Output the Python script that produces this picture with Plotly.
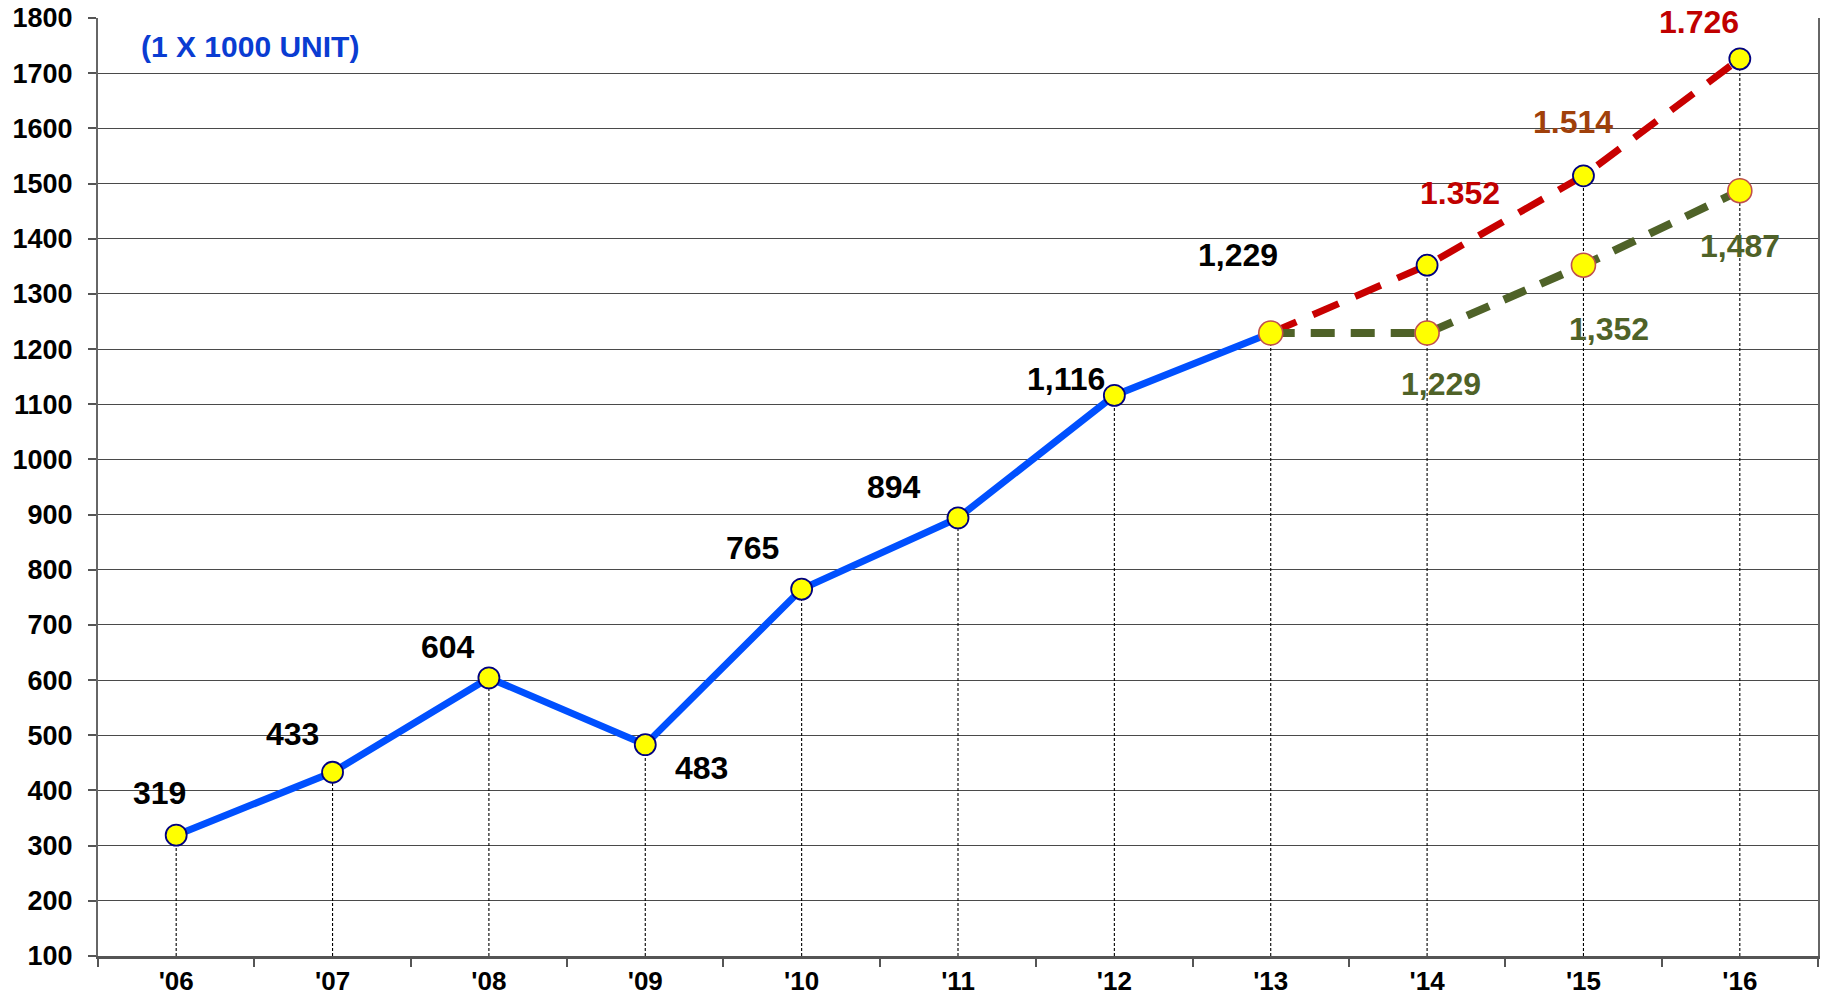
import plotly.graph_objects as go

# ---- data ----
years = ["'06", "'07", "'08", "'09", "'10", "'11", "'12", "'13", "'14", "'15", "'16"]
actual_years = ["'06", "'07", "'08", "'09", "'10", "'11", "'12", "'13"]
actual_vals = [319, 433, 604, 483, 765, 894, 1116, 1229]
high_years = ["'13", "'14", "'15", "'16"]
high_vals = [1229, 1352, 1514, 1726]
low_years = ["'13", "'14", "'15", "'16"]
low_vals = [1229, 1229, 1352, 1487]
y_ticks = list(range(100, 1900, 100))
unit_text = "(1 X 1000 UNIT)"

# ---- styles / label offsets (pixels, dx right, dy down) ----
actual_offsets = [(-17, -42), (-40, -38), (-41, -31), (56, 23), (-49, -41), (-64, -31), (-48, -16), (-33, -78)]
high_offsets = [None, (33, -72), (-10, -54), (-41, -37)]
high_label_colors = [None, "#C00000", "#A0400A", "#C00000"]
low_offsets = [None, (14, 51), (26, 64), (0, 55)]

FONT = "Liberation Sans, Arial, sans-serif"
BLUE = "#0050FF"
RED = "#C80000"
GREEN = "#4F6228"
LABEL_SIZE = 32

fig = go.Figure()

# drop lines from each point's top value down to the axis
top_vals = {}
for yrs, vals in ((actual_years, actual_vals), (high_years, high_vals), (low_years, low_vals)):
    for yr, v in zip(yrs, vals):
        top_vals[yr] = max(top_vals.get(yr, 0), v)
dx, dy = [], []
for yr in years:
    dx += [yr, yr, None]
    dy += [y_ticks[0], top_vals[yr], None]
fig.add_trace(go.Scatter(x=dx, y=dy, mode="lines",
                         line=dict(color="black", width=1.1, dash="3px,2px"),
                         hoverinfo="skip", showlegend=False))

fig.add_trace(go.Scatter(x=actual_years, y=actual_vals, mode="lines+markers",
                         line=dict(color=BLUE, width=7),
                         marker=dict(size=21, color="#FFFF00", line=dict(color="#000080", width=1.8)),
                         showlegend=False))
fig.add_trace(go.Scatter(x=high_years, y=high_vals, mode="lines+markers",
                         line=dict(color=RED, width=7, dash="28px,18px"),
                         marker=dict(size=21, color="#FFFF00", line=dict(color="#000080", width=1.8)),
                         showlegend=False))
fig.add_trace(go.Scatter(x=low_years, y=low_vals, mode="lines+markers",
                         line=dict(color=GREEN, width=8, dash="24px,16px"),
                         marker=dict(size=24, color="#FFFF00", line=dict(color="#C0504D", width=1.6)),
                         showlegend=False))

annotations = []
for yr, v, off in zip(actual_years, actual_vals, actual_offsets):
    annotations.append(dict(x=yr, y=v, xref="x", yref="y", text=f"{v:,}", showarrow=False,
                            xanchor="center", yanchor="middle", xshift=off[0], yshift=-off[1],
                            font=dict(family=FONT, size=LABEL_SIZE, color="black", weight="bold")))
for yr, v, off, col in zip(high_years, high_vals, high_offsets, high_label_colors):
    if off is None:
        continue
    annotations.append(dict(x=yr, y=v, xref="x", yref="y", text=f"{v:,}".replace(",", "."), showarrow=False,
                            xanchor="center", yanchor="middle", xshift=off[0], yshift=-off[1],
                            font=dict(family=FONT, size=LABEL_SIZE, color=col, weight="bold")))
for yr, v, off in zip(low_years, low_vals, low_offsets):
    if off is None:
        continue
    annotations.append(dict(x=yr, y=v, xref="x", yref="y", text=f"{v:,}", showarrow=False,
                            xanchor="center", yanchor="middle", xshift=off[0], yshift=-off[1],
                            font=dict(family=FONT, size=LABEL_SIZE, color=GREEN, weight="bold")))

W, H = 1821, 999
ML, MR, MT, MB = 98, 1, 18, 43
annotations.append(dict(x=(250 - ML) / (W - ML - MR), y=(H - MB - 47) / (H - MT - MB),
                        xref="paper", yref="paper", text=unit_text, showarrow=False,
                        xanchor="center", yanchor="middle",
                        font=dict(family=FONT, size=30, color="#0A3CD2", weight="bold")))

fig.update_layout(
    width=W, height=H,
    margin=dict(l=ML, r=MR, t=MT, b=MB, pad=0),
    paper_bgcolor="white", plot_bgcolor="white",
    annotations=annotations,
    showlegend=False,
)
fig.update_xaxes(type="category", categoryorder="array", categoryarray=years,
                 range=[-0.5, len(years) - 0.5],
                 showgrid=False, showline=True, linecolor="#555555", linewidth=2.5,
                 ticks="outside", tickson="boundaries", ticklen=8, tickcolor="#555555", tickwidth=1.5,
                 tickfont=dict(family=FONT, size=26, color="black", weight="bold"),
                 zeroline=False)
fig.update_yaxes(range=[y_ticks[0], y_ticks[-1]], tickvals=y_ticks,
                 showgrid=True, gridcolor="#4a4a4a", gridwidth=1.2,
                 showline=True, linecolor="#666666", linewidth=2, mirror=True,
                 ticks="outside", ticklen=8, tickcolor="#555555", tickwidth=1.5,
                 ticklabelstandoff=10,
                 tickfont=dict(family=FONT, size=27, color="black", weight="bold"),
                 zeroline=False)

fig.write_html("out.html", config={"displayModeBar": False},
               post_script="document.body.style.margin='0';document.body.style.overflow='hidden';")
